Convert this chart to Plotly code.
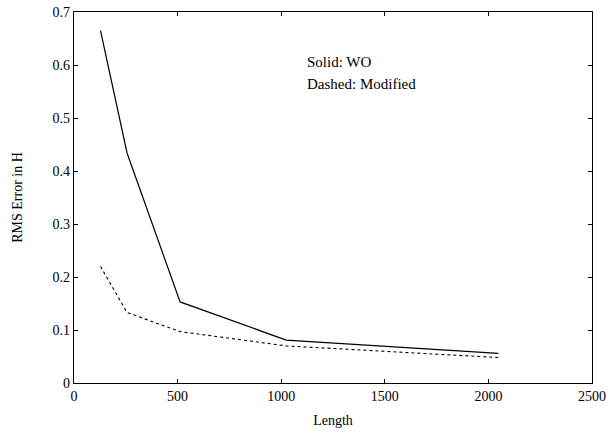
import plotly.graph_objects as go

lengths = [128, 256, 512, 1024, 2048]
wo_error = [0.665, 0.434, 0.153, 0.081, 0.056]
modified_error = [0.220, 0.133, 0.097, 0.070, 0.048]

x_ticks = [0, 500, 1000, 1500, 2000, 2500]
y_ticks = [0, 0.1, 0.2, 0.3, 0.4, 0.5, 0.6, 0.7]

font = "Liberation Serif, Times New Roman, serif"

fig = go.Figure()
fig.add_trace(go.Scatter(x=lengths, y=wo_error, mode="lines",
                         line=dict(color="black", width=1.2, dash="solid"),
                         name="WO", showlegend=False))
fig.add_trace(go.Scatter(x=lengths, y=modified_error, mode="lines",
                         line=dict(color="black", width=1.1, dash="3px,3px"),
                         name="Modified", showlegend=False))

fig.add_annotation(x=1115, y=0.606, xref="x", yref="y", text="Solid: WO",
                   showarrow=False, xanchor="left", yanchor="middle",
                   font=dict(family=font, size=15, color="black"))
fig.add_annotation(x=1115, y=0.565, xref="x", yref="y", text="Dashed: Modified",
                   showarrow=False, xanchor="left", yanchor="middle",
                   font=dict(family=font, size=15, color="black"))

axis_common = dict(showline=True, linecolor="black", linewidth=1.2, mirror="ticks",
                   ticks="inside", ticklen=4, tickcolor="black", tickwidth=1,
                   showgrid=False, zeroline=False, ticklabeloverflow="allow",
                   tickfont=dict(family=font, size=14, color="black"))

fig.update_xaxes(range=[0, 2500], tickvals=x_ticks, ticktext=[str(v) for v in x_ticks],
                 title=dict(text="Length", font=dict(family=font, size=14, color="black"), standoff=12),
                 **axis_common)
fig.update_yaxes(range=[0, 0.7], tickvals=y_ticks, ticktext=[("%g" % v) for v in y_ticks],
                 title=dict(text="RMS Error in H", font=dict(family=font, size=14, color="black"), standoff=26),
                 **axis_common)

fig.update_layout(width=615, height=439, margin=dict(l=74, r=23, t=12, b=56, autoexpand=False),
                  paper_bgcolor="white", plot_bgcolor="white")

fig.write_html("out.html", config={"displayModeBar": False},
               post_script="document.body.style.margin='0';document.body.style.overflow='hidden';")
